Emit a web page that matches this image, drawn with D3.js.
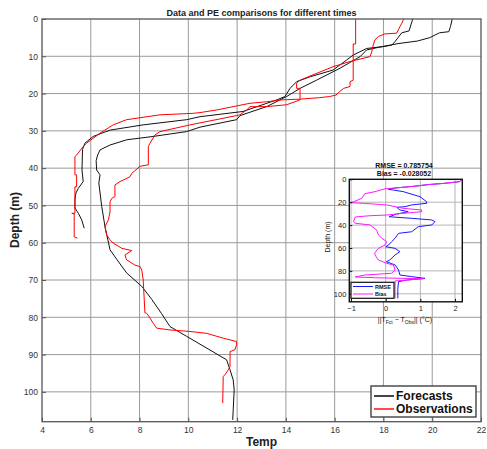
<!DOCTYPE html>
<html>
<head>
<meta charset="utf-8">
<script src="https://cdn.jsdelivr.net/npm/d3@7"></script>
<style>
  body { margin: 0; background: #fff; }
  text { font-family: "Liberation Sans", Arial, sans-serif; }
</style>
</head>
<body>
<svg id="chart" width="487" height="449"></svg>
<script>
// profiles are [temp, depth]
const forecastShallow = [[19.2,0],[19.05,3.2],[18.75,3.7],[18.47,6.1],[18.34,7],[17.99,7.4],[17.31,7.9],[16.75,9.7],[16.49,11],[15.93,13.7],[14.99,15.5],[14.44,16.8],[14.17,18.6],[13.96,20.8],[13.62,21.7],[12.24,24.8],[10.48,26.2],[9.93,27],[8.14,28.4],[6.79,29.8],[6.1,31.5],[5.76,33.3],[5.66,35],[5.64,40.5],[5.69,43.6],[5.49,45.4],[5.39,46.7],[5.35,48.5],[5.35,50.7],[5.49,52.1],[5.63,53.9],[5.73,56.1]];
const forecastDeep = [[20.82,0],[20.75,2],[20.68,3.4],[20.3,3.7],[19.9,5],[19.4,5.9],[18.6,6.6],[17.8,7.6],[17.31,8.3],[17.04,10.1],[16.22,13.2],[15.26,16.4],[14.58,18.6],[14.03,20.8],[13.21,23.5],[12.12,25.9],[11.98,27],[10.48,29],[9.93,30.2],[8.55,31.5],[7.47,32.4],[6.79,33.8],[6.38,35.1],[6.28,36.5],[6.22,38],[6.24,40.5],[6.38,41.8],[6.33,44],[6.45,50.3],[6.58,55.6],[6.79,61.9],[7.07,64.5],[7.47,68.1],[8.09,71.7],[8.5,75.2],[8.9,79],[9.25,82.5],[9.93,85.1],[11.57,91.4],[11.71,94.1],[11.84,96.8],[11.88,99.5],[11.84,104.8],[11.82,107.5]];
const obsShallow = [[16.86,0],[16.86,6.7],[16.76,6.7],[16.76,16.4],[16.63,16.8],[16.63,18.1],[16.37,18.6],[16.2,19.5],[16.05,20.4],[15.79,20.8],[15.37,21.1],[14.58,21.5],[13.83,21.7],[13.21,22.2],[12.53,22.6],[11.16,24.4],[10.48,25.1],[10.2,25.3],[8.84,25.7],[7.47,27],[6.92,28.4],[6.38,30.6],[5.83,33.3],[5.69,34.2],[5.42,36.5],[5.35,36.9],[5.35,41.8],[5.42,41.8],[5.42,45],[5.35,45],[5.35,52.1],[5.22,52.1],[5.32,52.3],[5.32,58.4],[5.45,58.8]];
const obsDeep = [[18.85,0],[18.81,0.3],[18.75,1.2],[18.68,2],[18.61,2.9],[18.54,3.8],[18.06,4],[17.79,4.7],[17.65,5.6],[17.58,7],[17.52,8.8],[17.45,10.1],[16.63,11.4],[15.93,12.8],[14.58,16.4],[14.44,17.2],[14.44,18.6],[14.58,18.6],[14.58,21.7],[14.03,23],[13.21,23.5],[12.53,23.5],[12.39,24.4],[12.12,25.7],[11.98,25.9],[10.07,28.4],[8.84,30.2],[8.63,31.1],[8.43,33.3],[8.36,34.2],[8.36,39.1],[8.02,39.5],[7.68,41.4],[7.61,42.3],[7.2,43.6],[6.99,44.5],[6.99,47.6],[6.86,48.1],[6.79,49],[6.79,51.7],[6.72,53.9],[6.58,55.7],[6.65,57.9],[6.79,59.2],[6.92,60.1],[7.27,61.5],[7.68,62.1],[7.61,62.4],[7.4,63.3],[7.47,64.6],[7.81,66],[8.02,66.4],[8.09,67.3],[8.15,70],[8.22,78.8],[8.29,78.9],[8.43,80.2],[8.56,81.6],[8.7,82.9],[9.25,83.4],[10.07,83.8],[10.75,84.3],[11.43,85.6],[11.98,86.5],[11.98,87.4],[11.91,88.7],[11.71,89.2],[11.71,93.2],[11.64,94.1],[11.5,95.4],[11.43,95.9],[11.41,103]];

// inset: [value, depth]
const rmse = [[2.19,0],[2.14,2],[1.71,3.5],[1.23,4.6],[0.85,6],[0.27,7.6],[0.08,8.7],[0.51,10.8],[0.99,15.2],[1.18,19.6],[1.18,21],[0.75,22.4],[0.56,23.9],[0.32,24.5],[0.41,26.8],[0.65,28.3],[0.3,30.5],[0.1,32.7],[0.75,34.1],[1.33,35.5],[1.42,37],[1.33,39.9],[0.94,41.4],[0.75,45.8],[0.37,47.2],[0.27,51.5],[0.17,54.5],[0.08,57.4],[0,58.9],[0.27,60.3],[0.41,63.2],[0.27,66.1],[0.12,70.5],[0.02,72],[0.27,74.8],[0.37,79.2],[0.41,83.6],[0.75,85],[1.13,86.5],[0.6,88],[0.37,89.4],[0.35,96],[0.35,104]];
const bias = [[2.19,0],[2.14,2],[1.71,3.5],[1.23,4.6],[0.85,6],[0.27,7.6],[-0.02,8.3],[-0.31,10.8],[-0.6,12.5],[-0.69,16.6],[-0.8,18],[-0.93,19.6],[-1.03,20.4],[-0.64,21],[0.03,22.4],[0.51,25.4],[1.04,26.8],[1.04,28.3],[0.51,29.7],[0.03,31.2],[-0.45,31.8],[-0.88,32.9],[-0.93,37],[-0.88,38.4],[-0.45,39.9],[-0.26,44.3],[-0.21,48.6],[-0.11,51.5],[0.03,54.5],[-0.02,57.4],[-0.21,60.3],[-0.31,64],[-0.31,66.1],[-0.21,70.5],[0.03,73.4],[0.22,74.8],[0.27,79.2],[0.17,82.1],[-0.6,83.6],[-0.88,85.3],[-0.3,86],[0.5,86.5],[1.1,86.8],[0.6,88],[0.27,88.8],[0.27,104]];

const xTicks = [4,6,8,10,12,14,16,18,20,22];
const yTicks = [0,10,20,30,40,50,60,70,80,90,100];
const insetXTicks = [-1,0,1,2];
const insetYTicks = [0,20,40,60,80,100];
const rmseText = "RMSE = 0.785754";
const biasText = "Bias = -0.028052";

const svg = d3.select('#chart');

// main axes
const x = d3.scaleLinear().domain([4, 22]).range([42, 481]);
const y = d3.scaleLinear().domain([0, 108]).range([19, 421.7]);

const grid = svg.append('g').attr('stroke', '#9a9a9a').attr('stroke-width', 1);
grid.selectAll('.gx').data(xTicks.slice(1, -1)).join('line')
    .attr('x1', d => x(d)).attr('x2', d => x(d))
    .attr('y1', y.range()[0]).attr('y2', y.range()[1]);
grid.selectAll('.gy').data(yTicks.slice(1)).join('line')
    .attr('y1', d => y(d)).attr('y2', d => y(d))
    .attr('x1', x.range()[0]).attr('x2', x.range()[1]);

const line = d3.line().x(d => x(d[0])).y(d => y(d[1]));
const profiles = [
    { data: forecastShallow, color: '#111' },
    { data: forecastDeep, color: '#111' },
    { data: obsShallow, color: '#ff0000' },
    { data: obsDeep, color: '#ff0000' }
];
svg.append('g').selectAll('path').data(profiles).join('path')
    .attr('d', d => line(d.data))
    .attr('fill', 'none')
    .attr('stroke', d => d.color)
    .attr('stroke-width', 1);

// frame and inward ticks
svg.append('rect')
    .attr('x', x.range()[0]).attr('y', y.range()[0])
    .attr('width', x.range()[1] - x.range()[0]).attr('height', y.range()[1] - y.range()[0])
    .attr('fill', 'none').attr('stroke', '#555').attr('stroke-width', 1.3);

const xAxis = svg.append('g').attr('transform', `translate(0,${y.range()[1]})`)
    .call(d3.axisBottom(x).tickValues(xTicks).tickSize(-4).tickPadding(5));
const yAxis = svg.append('g').attr('transform', `translate(${x.range()[0]},0)`)
    .call(d3.axisLeft(y).tickValues(yTicks).tickSize(-4).tickPadding(4));
[xAxis, yAxis].forEach(a => {
    a.select('.domain').remove();
    a.selectAll('line').attr('stroke', '#555');
    a.selectAll('text').attr('font-size', 8.5).attr('fill', '#333')
        .attr('font-family', '"Liberation Sans", Arial, sans-serif');
});

svg.append('text').attr('x', 261.5).attr('y', 15.5).attr('text-anchor', 'middle')
    .attr('font-size', 9).attr('font-weight', 'bold').attr('fill', '#222')
    .text('Data and PE comparisons for different times');
svg.append('text').attr('x', 261.5).attr('y', 446).attr('text-anchor', 'middle')
    .attr('font-size', 12).attr('font-weight', 'bold').attr('fill', '#222').text('Temp');
svg.append('text').attr('transform', 'translate(19,220) rotate(-90)').attr('text-anchor', 'middle')
    .attr('font-size', 12).attr('font-weight', 'bold').attr('fill', '#222').text('Depth (m)');

// main legend
const leg = svg.append('g');
leg.append('rect').attr('x', 371).attr('y', 386).attr('width', 105).attr('height', 31)
    .attr('fill', '#fff').attr('stroke', '#333').attr('stroke-width', 1.3);
[['Forecasts', '#444', 396], ['Observations', '#ff4d4d', 409]].forEach(([label, c, ly]) => {
    leg.append('line').attr('x1', 374).attr('x2', 394).attr('y1', ly).attr('y2', ly)
        .attr('stroke', c).attr('stroke-width', 2);
    leg.append('text').attr('x', 396).attr('y', ly + 4.2).attr('font-size', 12)
        .attr('font-weight', 'bold').attr('fill', '#111').text(label);
});

// inset
const xi = d3.scaleLinear().domain([-1.05, 2.21]).range([349.3, 462.3]);
const yi = d3.scaleLinear().domain([0, 107]).range([179.3, 301.8]);
const inset = svg.append('g');
inset.append('rect').attr('x', xi.range()[0]).attr('y', yi.range()[0])
    .attr('width', xi.range()[1] - xi.range()[0]).attr('height', yi.range()[1] - yi.range()[0])
    .attr('fill', '#fff');
const igrid = inset.append('g').attr('stroke', '#b5b5b5').attr('stroke-width', 1);
igrid.selectAll('.ix').data(insetXTicks).join('line')
    .attr('x1', d => xi(d)).attr('x2', d => xi(d))
    .attr('y1', yi.range()[0]).attr('y2', yi.range()[1]);
igrid.selectAll('.iy').data(insetYTicks.slice(1)).join('line')
    .attr('y1', d => yi(d)).attr('y2', d => yi(d))
    .attr('x1', xi.range()[0]).attr('x2', xi.range()[1]);

const iline = d3.line().x(d => xi(d[0])).y(d => yi(d[1]));
inset.append('path').attr('d', iline(rmse)).attr('fill', 'none').attr('stroke', '#1a1aff').attr('stroke-width', 1);
inset.append('path').attr('d', iline(bias)).attr('fill', 'none').attr('stroke', '#ff1aff').attr('stroke-width', 1);

inset.append('rect').attr('x', xi.range()[0]).attr('y', yi.range()[0])
    .attr('width', xi.range()[1] - xi.range()[0]).attr('height', yi.range()[1] - yi.range()[0])
    .attr('fill', 'none').attr('stroke', '#111').attr('stroke-width', 1.4);

const ixAxis = inset.append('g').attr('transform', `translate(0,${yi.range()[1]})`)
    .call(d3.axisBottom(xi).tickValues(insetXTicks).tickSize(-3).tickPadding(4).tickFormat(d3.format('d')));
const iyAxis = inset.append('g').attr('transform', `translate(${xi.range()[0]},0)`)
    .call(d3.axisLeft(yi).tickValues(insetYTicks).tickSize(-3).tickPadding(3));
[ixAxis, iyAxis].forEach(a => {
    a.select('.domain').remove();
    a.selectAll('line').attr('stroke', '#111');
    a.selectAll('text').attr('font-size', 7.5).attr('fill', '#222')
        .attr('font-family', '"Liberation Sans", Arial, sans-serif');
});
ixAxis.selectAll('text').text(d => d < 0 ? '\u2212' + Math.abs(d) : d);

inset.append('text').attr('x', 404).attr('y', 167.5).attr('text-anchor', 'middle')
    .attr('font-size', 7).attr('font-weight', 'bold').attr('fill', '#111').text(rmseText);
inset.append('text').attr('x', 404).attr('y', 176).attr('text-anchor', 'middle')
    .attr('font-size', 7).attr('font-weight', 'bold').attr('fill', '#111').text(biasText);
inset.append('text').attr('transform', 'translate(329.5,237) rotate(-90)').attr('text-anchor', 'middle')
    .attr('font-size', 7).attr('fill', '#111').text('Depth (m)');

const xl = inset.append('text').attr('x', 405).attr('y', 322).attr('text-anchor', 'middle')
    .attr('font-size', 7).attr('fill', '#111');
xl.append('tspan').text('||T');
xl.append('tspan').attr('font-size', 5).attr('dy', 1.5).text('Fct');
xl.append('tspan').attr('dy', -1.5).text(' \u2212 T');
xl.append('tspan').attr('font-size', 5).attr('dy', 1.5).text('Obs');
xl.append('tspan').attr('dy', -1.5).text('|| (\u00B0C)');

// inset legend
const ileg = inset.append('g');
ileg.append('rect').attr('x', 351).attr('y', 282.3).attr('width', 43).attr('height', 16)
    .attr('fill', '#fff').attr('stroke', '#111').attr('stroke-width', 1.2);
[['RMSE', '#1a1aff', 286.5], ['Bias', '#ff1aff', 294]].forEach(([label, c, ly]) => {
    ileg.append('line').attr('x1', 353).attr('x2', 373).attr('y1', ly).attr('y2', ly)
        .attr('stroke', c).attr('stroke-width', 1);
    ileg.append('text').attr('x', 375).attr('y', ly + 2).attr('font-size', 5.5)
        .attr('font-weight', 'bold').attr('fill', '#111').text(label);
});
</script>
</body>
</html>
